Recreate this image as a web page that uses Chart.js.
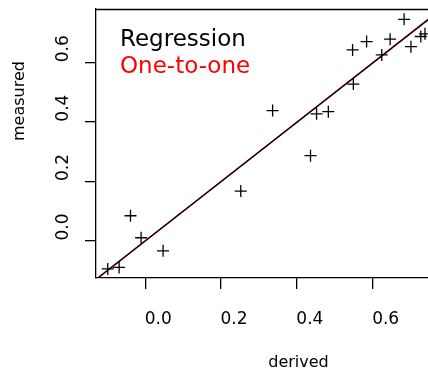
<!DOCTYPE html>
<html>
<head>
<meta charset="utf-8">
<script src="https://cdn.jsdelivr.net/npm/chart.js@4"></script>
<style>
  html, body { margin: 0; padding: 0; background: #fff; overflow: hidden; }
  #c { display: block; }
</style>
</head>
<body>
<canvas id="c" width="428" height="369"></canvas>
<script>
// ---- data ----
const derived  = [-0.099, -0.069, -0.039, -0.011, 0.047, 0.252, 0.336, 0.436, 0.452, 0.483,
                  0.547, 0.549, 0.584, 0.624, 0.646, 0.683, 0.701, 0.727, 0.738];
const measured = [-0.094, -0.089, 0.085, 0.011, -0.033, 0.168, 0.439, 0.287, 0.428, 0.435,
                  0.643, 0.528, 0.671, 0.626, 0.679, 0.746, 0.654, 0.688, 0.697];
const regressionX = [-0.13, 0.75];
const regressionY = [-0.129, 0.748];
const oneToOneX = [-0.13, 0.75];
const oneToOneY = [-0.13, 0.75];
const xTicks = [0.0, 0.2, 0.4, 0.6];
const yTicks = [0.0, 0.2, 0.4, 0.6];
const legendLabels = ['Regression', 'One-to-one'];
const legendColors = ['#000000', '#ff0000'];
const xTitle = 'derived';
const yTitle = 'measured';

const FONT = "'DejaVu Sans', 'Liberation Sans', sans-serif";
Chart.defaults.font.family = FONT;
Chart.defaults.color = '#000';

const toXY = (xs, ys) => xs.map((x, i) => ({ x: x, y: ys[i] }));
const noPad = s => { s.paddingTop = 0; s.paddingBottom = 0; s.paddingLeft = 0; s.paddingRight = 0; };

const decor = {
  id: 'decor',
  afterDraw(chart) {
    const ctx = chart.ctx;
    const a = chart.chartArea;
    ctx.save();
    // top border of the box
    ctx.strokeStyle = '#000';
    ctx.lineWidth = 1.3;
    ctx.beginPath();
    ctx.moveTo(a.left, a.top + 0.5);
    ctx.lineTo(a.right, a.top + 0.5);
    ctx.stroke();
    // legend text
    ctx.font = '23px ' + FONT;
    ctx.textAlign = 'left';
    ctx.textBaseline = 'alphabetic';
    legendLabels.forEach((t, i) => {
      ctx.fillStyle = legendColors[i];
      ctx.fillText(t, a.left + 24, a.top + 36.7 + i * 27.6);
    });
    // axis titles
    ctx.font = '16px ' + FONT;
    ctx.fillStyle = '#000';
    ctx.textAlign = 'center';
    ctx.fillText(xTitle, 298.5, 367);
    ctx.translate(23.5, 101);
    ctx.rotate(-Math.PI / 2);
    ctx.fillText(yTitle, 0, 0);
    ctx.restore();
  }
};

new Chart(document.getElementById('c'), {
  type: 'scatter',
  data: {
    datasets: [
      {
        type: 'line',
        label: legendLabels[1],
        data: toXY(oneToOneX, oneToOneY),
        borderColor: '#ff0000',
        borderWidth: 1.3,
        pointRadius: 0,
        fill: false,
        clip: 0,
        order: 3
      },
      {
        type: 'line',
        label: legendLabels[0],
        data: toXY(regressionX, regressionY),
        borderColor: '#000000',
        borderWidth: 1.3,
        pointRadius: 0,
        fill: false,
        clip: 0,
        order: 2
      },
      {
        label: 'points',
        data: toXY(derived, measured),
        pointStyle: 'cross',
        pointRadius: 6,
        pointBorderWidth: 1.3,
        borderColor: '#000',
        backgroundColor: '#000',
        order: 1
      }
    ]
  },
  options: {
    responsive: false,
    animation: false,
    layout: { autoPadding: false, padding: { left: 0, top: 9, right: 0, bottom: 0 } },
    plugins: { legend: { display: false }, tooltip: { enabled: false } },
    scales: {
      x: {
        type: 'linear',
        min: -0.13,
        max: 0.746,
        afterBuildTicks: s => { s.ticks = xTicks.map(v => ({ value: v })); },
        afterFit: s => { s.height = 91; noPad(s); },
        ticks: {
          font: { size: 17 },
          color: '#000',
          padding: 20,
          labelOffset: 13,
          maxRotation: 0,
          callback: v => Number(v).toFixed(1)
        },
        grid: { display: true, drawOnChartArea: false, drawTicks: true, tickLength: 11, color: '#000', lineWidth: 1.3 },
        border: { display: true, color: '#000', width: 1.3 }
      },
      y: {
        type: 'linear',
        min: -0.1245,
        max: 0.7806,
        afterBuildTicks: s => { s.ticks = yTicks.map(v => ({ value: v })); },
        afterFit: s => { s.width = 96; noPad(s); },
        ticks: {
          font: { size: 17 },
          color: '#000',
          padding: 8,
          minRotation: 90,
          maxRotation: 90,
          crossAlign: 'center',
          labelOffset: -14,
          callback: v => Number(v).toFixed(1)
        },
        grid: { display: true, drawOnChartArea: false, drawTicks: true, tickLength: 11, color: '#000', lineWidth: 1.3 },
        border: { display: true, color: '#000', width: 1.3 }
      }
    }
  },
  plugins: [decor]
});
</script>
</body>
</html>
